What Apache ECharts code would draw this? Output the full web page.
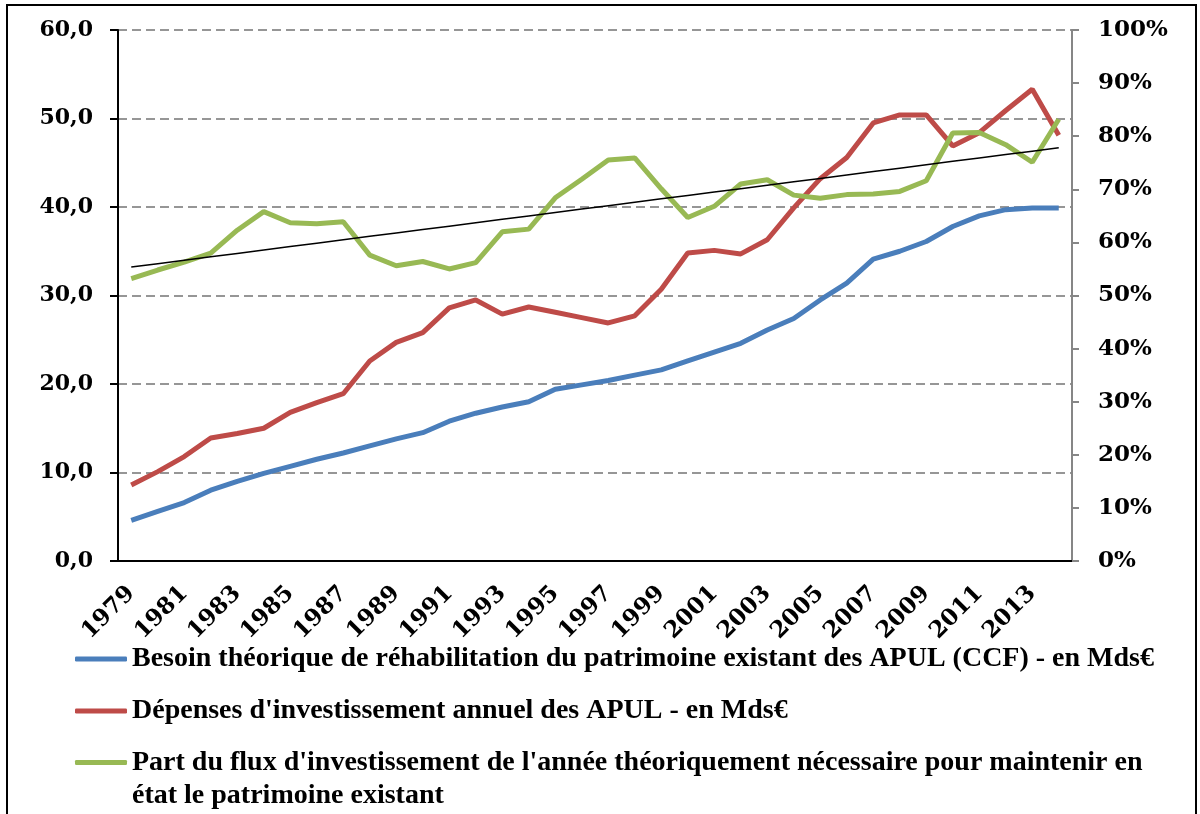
<!DOCTYPE html>
<html>
<head>
<meta charset="utf-8">
<script src="https://cdn.jsdelivr.net/npm/echarts@6/dist/echarts.min.js"></script>
<style>
  html, body { margin: 0; padding: 0; background: #fff; }
  #chart { width: 1200px; height: 814px; }
</style>
</head>
<body>
<div id="chart"></div>
<script>
  const years = ['1979','1980','1981','1982','1983','1984','1985','1986','1987','1988',
    '1989','1990','1991','1992','1993','1994','1995','1996','1997','1998',
    '1999','2000','2001','2002','2003','2004','2005','2006','2007','2008',
    '2009','2010','2011','2012','2013','2014'];

  // Mds€ (axe de gauche)
  const besoin = [4.6, 5.6, 6.6, 8.0, 9.0, 9.9, 10.7, 11.5, 12.2, 13.0,
    13.8, 14.5, 15.8, 16.7, 17.4, 18.0, 19.4, 19.9, 20.4, 21.0,
    21.6, 22.6, 23.6, 24.6, 26.1, 27.4, 29.5, 31.4, 34.1, 35.0,
    36.1, 37.8, 39.0, 39.7, 39.9, 39.9];
  const depenses = [8.6, 10.1, 11.8, 13.9, 14.4, 15.0, 16.8, 17.9, 18.9, 22.6,
    24.7, 25.8, 28.6, 29.5, 27.9, 28.7, 28.1, 27.5, 26.9, 27.7,
    30.7, 34.8, 35.1, 34.7, 36.3, 39.9, 43.2, 45.6, 49.5, 50.4,
    50.4, 46.9, 48.4, 50.9, 53.3, 48.1];
  // % (axe de droite)
  const part = [53.2, 54.8, 56.3, 58.0, 62.3, 65.8, 63.7, 63.5, 63.9, 57.6,
    55.6, 56.4, 55.0, 56.2, 62.0, 62.5, 68.4, 71.9, 75.5, 75.9,
    70.1, 64.7, 66.8, 71.0, 71.8, 68.9, 68.3, 69.0, 69.1, 69.6,
    71.6, 80.6, 80.7, 78.4, 75.1, 83.2];

  const names = [
    'Besoin théorique de réhabilitation du patrimoine existant des APUL (CCF) - en Mds€',
    "Dépenses d'investissement annuel des APUL - en Mds€",
    "Part du flux d'investissement de l'année théoriquement nécessaire pour maintenir en état le patrimoine existant"
  ];
  const colors = ['#4A7EBB', '#BE4B48', '#98B954'];

  // courbe de tendance linéaire (moindres carrés) sur la part
  function linearTrend(vals) {
    const n = vals.length;
    let sx = 0, sy = 0, sxx = 0, sxy = 0;
    vals.forEach((y, x) => { sx += x; sy += y; sxx += x * x; sxy += x * y; });
    const b = (n * sxy - sx * sy) / (n * sxx - sx * sx);
    const a = (sy - b * sx) / n;
    return vals.map((_, x) => a + b * x);
  }
  const tendance = linearTrend(part);

  const font = '"DejaVu Serif", serif';
  const legendText = { fontFamily: '"Liberation Serif", serif', fontWeight: 'bold', fontSize: 28, color: '#000', lineHeight: 28 };

  const chart = echarts.init(document.getElementById('chart'));
  chart.setOption({
    animation: false,
    backgroundColor: '#fff',
    grid: { left: 118, right: 128, top: 30, bottom: 253, containLabel: false },
    graphic: [{
      type: 'rect',
      shape: { x: 7, y: 5, width: 1189, height: 830 },
      style: { fill: 'none', stroke: '#000', lineWidth: 2 },
      silent: true
    }],
    legend: [
      {
        data: [names[0]], left: 75, top: 645, padding: 0,
        itemWidth: 52, itemHeight: 5, icon: 'roundRect', textStyle: legendText
      },
      {
        data: [names[1]], left: 75, top: 697, padding: 0,
        itemWidth: 52, itemHeight: 5, icon: 'roundRect', textStyle: legendText
      },
      {
        data: [names[2]], left: 75, top: 713, padding: 0,
        itemWidth: 52, itemHeight: 5, icon: 'roundRect',
        textStyle: Object.assign({}, legendText, { lineHeight: 33 }),
        formatter: () => "\nPart du flux d'investissement de l'année théoriquement nécessaire pour maintenir en\nétat le patrimoine existant"
      }
    ],
    xAxis: {
      type: 'category',
      data: years,
      boundaryGap: true,
      axisLine: { lineStyle: { color: '#000', width: 2 } },
      axisTick: { interval: 0, length: 7, lineStyle: { color: '#000', width: 2 } },
      axisLabel: {
        interval: 1, rotate: 45, margin: 29,
        fontFamily: font, fontWeight: 'bold', fontSize: 23, color: '#000'
      },
      splitLine: { show: false }
    },
    yAxis: [
      {
        type: 'value', min: 0, max: 60, interval: 10, position: 'left',
        axisLine: { show: true, lineStyle: { color: '#000', width: 2 } },
        axisTick: { show: true, length: 8, lineStyle: { color: '#000', width: 2 } },
        axisLabel: {
          margin: 25, fontFamily: font, fontWeight: 'bold', fontSize: 22, color: '#000',
          formatter: v => v.toFixed(1).replace('.', ',')
        },
        splitLine: { show: true, lineStyle: { color: '#969696', width: 2, type: [9, 5] } }
      },
      {
        type: 'value', min: 0, max: 100, interval: 10, position: 'right',
        axisLine: { show: true, lineStyle: { color: '#868686', width: 2 } },
        axisTick: { show: true, length: 7, lineStyle: { color: '#868686', width: 2 } },
        axisLabel: {
          margin: 26, fontFamily: font, fontWeight: 'bold', fontSize: 23, color: '#000',
          formatter: '{value}%'
        },
        splitLine: { show: false }
      }
    ],
    series: [
      {
        name: names[0], type: 'line', data: besoin, yAxisIndex: 0,
        showSymbol: false, color: colors[0], lineStyle: { width: 5, color: colors[0] }
      },
      {
        name: names[1], type: 'line', data: depenses, yAxisIndex: 0,
        showSymbol: false, color: colors[1], lineStyle: { width: 5, color: colors[1] }
      },
      {
        name: names[2], type: 'line', data: part, yAxisIndex: 1,
        showSymbol: false, color: colors[2], lineStyle: { width: 5, color: colors[2] }
      },
      {
        name: 'Tendance', type: 'line', data: tendance, yAxisIndex: 1,
        showSymbol: false, color: '#000', lineStyle: { width: 1.5, color: '#000' }
      }
    ]
  });
</script>
</body>
</html>
